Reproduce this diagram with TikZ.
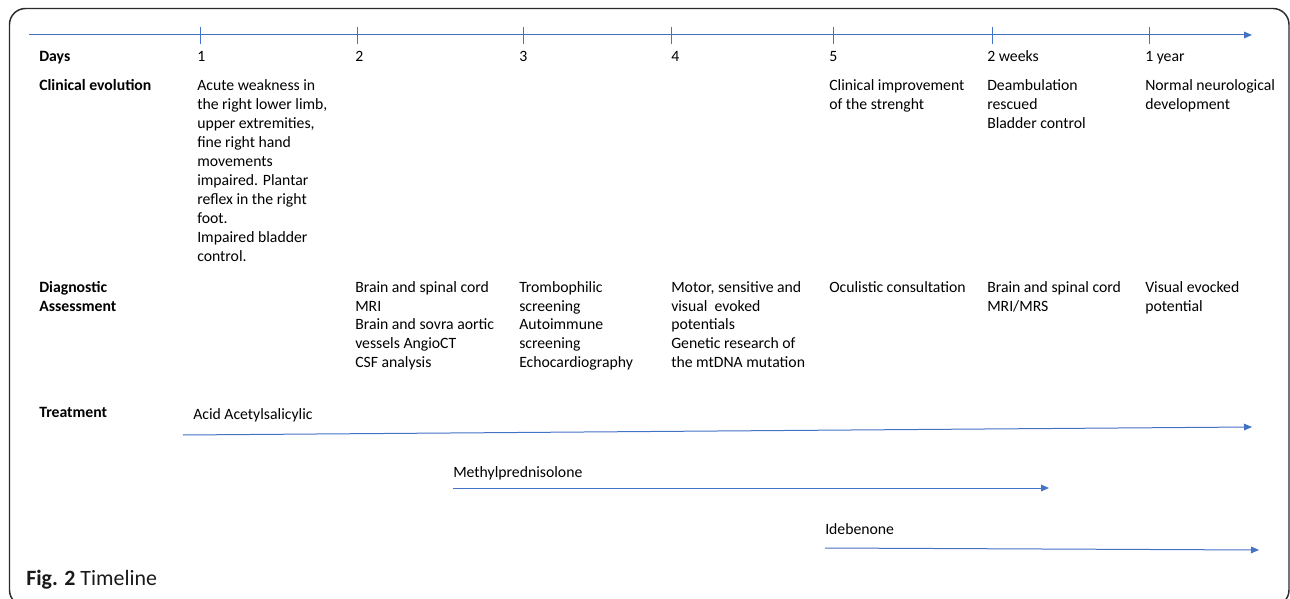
\documentclass[tikz,border=0pt]{standalone}
\usepackage{fontspec}
\setmainfont{Carlito}
\usetikzlibrary{arrows.meta}
\definecolor{tlblue}{HTML}{4472C4}
\definecolor{frame}{HTML}{2B2B2B}
\newcommand{\tlines}[1]{\begin{tabular}[t]{@{}l@{}}#1\end{tabular}}
\tikzset{
  txt/.style={anchor=base west, inner sep=0pt, font=\fontsize{11.8}{14.25}\selectfont},
  lbl/.style={txt, font=\fontsize{11.8}{14.25}\selectfont\bfseries},
  tick/.style={draw=tlblue, line width=0.75pt},
  tlarrow/.style={draw=tlblue, line width=0.75pt, -{Triangle[length=6pt,width=5pt]}},
}
\begin{document}
\begin{tikzpicture}[x=0.75pt,y=-0.75pt]
\useasboundingbox (0,0) rectangle (1290,599);
\clip (0,0) rectangle (1290,599);
\draw[frame, line width=1.1pt, rounded corners=12pt] (9.5,8.5) rectangle (1289,606);
% axis
\coordinate (ax0) at (29,35);
\coordinate (ax1) at (1252,35);
\draw[tlarrow] (ax0) -- (ax1);
\foreach \n/\x in {t1/200,t2/357,t3/523,t4/671,t5/833,t6/992,t7/1149}{
  \coordinate (\n a) at (\x,27);
  \coordinate (\n b) at (\x,44);
  \draw[tick] (\n a) -- (\n b);
}
% days row
\node[lbl] (days) at (39,62) {Days};
\node[txt] (d1) at (197,62) {1};
\node[txt] (d2) at (355,62) {2};
\node[txt] (d3) at (519,62) {3};
\node[txt] (d4) at (671,62) {4};
\node[txt] (d5) at (829,62) {5};
\node[txt] (d6) at (987,62) {2 weeks};
\node[txt] (d7) at (1145,62) {1 year};
% clinical evolution
\node[lbl] (clin) at (39,91) {Clinical evolution};
\node[txt] (c1) at (197,91) {\tlines{Acute weakness in\\the right lower limb,\\upper extremities,\\fine right hand\\movements\\impaired. Plantar\\reflex in the right\\foot.\\Impaired bladder\\control.}};
\node[txt] (c5) at (829,91) {\tlines{Clinical improvement\\of the strenght}};
\node[txt] (c6) at (987,91) {\tlines{Deambulation\\rescued\\Bladder control}};
\node[txt] (c7) at (1145,91) {\tlines{Normal neurological\\development}};
% diagnostic
\node[lbl] (diag) at (39,292) {\tlines{Diagnostic\\Assessment}};
\node[txt] (g2) at (355,292) {\tlines{Brain and spinal cord\\MRI\\Brain and sovra aortic\\vessels AngioCT\\CSF analysis}};
\node[txt] (g3) at (519,292) {\tlines{Trombophilic\\screening\\Autoimmune\\screening\\Echocardiography}};
\node[txt] (g4) at (671,292) {\tlines{Motor, sensitive and\\visual\ \ evoked\\potentials\\Genetic research of\\the mtDNA mutation}};
\node[txt] (g5) at (829,292) {Oculistic consultation};
\node[txt] (g6) at (987,292) {\tlines{Brain and spinal cord\\MRI/MRS}};
\node[txt] (g7) at (1145,292) {\tlines{Visual evocked\\potential}};
% treatment
\node[lbl] (treat) at (39,417) {Treatment};
\node[txt] (asa) at (193,419) {Acid Acetylsalicylic};
\coordinate (asa0) at (183,435);
\coordinate (asa1) at (1252,427);
\draw[tlarrow] (asa0) -- (asa1);
\node[txt] (mp) at (453,477) {Methylprednisolone};
\coordinate (mp0) at (453,488);
\coordinate (mp1) at (1049,488);
\draw[tlarrow] (mp0) -- (mp1);
\node[txt] (ide) at (825,534) {Idebenone};
\coordinate (ide0) at (825,548);
\coordinate (ide1) at (1259,550);
\draw[tlarrow] (ide0) -- (ide1);
% caption
\node[txt, font=\fontsize{16.4}{19}\selectfont, text=black!90] (cap) at (26,585) {\textbf{Fig. 2} Timeline};
\end{tikzpicture}
\end{document}
